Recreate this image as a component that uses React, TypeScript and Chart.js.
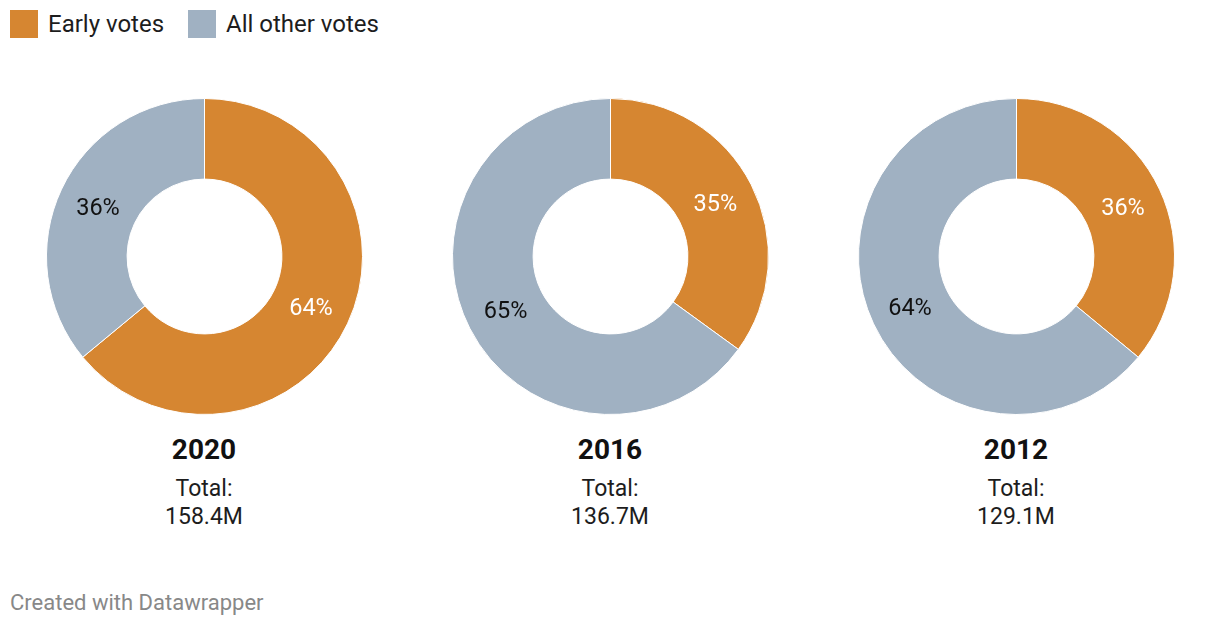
import React, { useEffect, useRef } from "react";
import { Chart, registerables } from "chart.js";

Chart.register(...registerables);

const seriesNames = ["Early votes", "All other votes"];
const seriesColors = ["#d68631", "#a0b1c2"];
const labelColors = ["#ffffff", "#111111"];
const years = ["2020", "2016", "2012"];
const earlyShare = [64, 35, 36];
const otherShare = [36, 65, 64];
const totals = ["158.4M", "136.7M", "129.1M"];

const FONT = "Roboto, 'Noto Sans', sans-serif";

const centersX = [204, 610, 1016];
const centerY = 256;
const SIZE = 317;

const labelPlugin = {
  id: "arcLabels",
  afterDatasetsDraw(chart: any) {
    const ctx = chart.ctx;
    const meta = chart.getDatasetMeta(0);
    const ds = chart.data.datasets[0];
    ctx.save();
    ctx.font = `23.5px ${FONT}`;
    ctx.textAlign = "center";
    ctx.textBaseline = "middle";
    meta.data.forEach((arc: any, i: number) => {
      const p = arc.getProps(["startAngle", "endAngle", "innerRadius", "outerRadius", "x", "y"], true);
      const mid = (p.startAngle + p.endAngle) / 2;
      const r = (p.innerRadius + p.outerRadius) / 2;
      ctx.fillStyle = labelColors[i];
      ctx.fillText(ds.data[i] + "%", p.x + Math.cos(mid) * r, p.y + Math.sin(mid) * r + 2.5);
    });
    ctx.restore();
  },
};

function Donut({ idx }: { idx: number }) {
  const ref = useRef<HTMLCanvasElement | null>(null);
  useEffect(() => {
    const chart = new Chart(ref.current as HTMLCanvasElement, {
      type: "doughnut",
      data: {
        labels: seriesNames,
        datasets: [
          {
            data: [earlyShare[idx], otherShare[idx]],
            backgroundColor: seriesColors,
            borderColor: "#ffffff",
            borderWidth: 1,
          },
        ],
      },
      options: {
        responsive: false,
        animation: false,
        cutout: "49%",
        layout: { padding: 0 },
        plugins: { legend: { display: false }, tooltip: { enabled: false } },
      },
      plugins: [labelPlugin],
    });
    return () => chart.destroy();
  }, [idx]);
  return (
    <canvas
      ref={ref}
      width={SIZE}
      height={SIZE}
      style={{
        position: "absolute",
        left: centersX[idx] - SIZE / 2,
        top: centerY - SIZE / 2,
        width: SIZE,
        height: SIZE,
      }}
    />
  );
}

export default function App() {
  useEffect(() => {
    document.body.style.margin = "0";
  }, []);
  return (
    <div
      style={{
        position: "relative",
        width: 1220,
        height: 626,
        background: "#ffffff",
        fontFamily: FONT,
        color: "#1d1d1d",
        overflow: "hidden",
      }}
    >
      {seriesNames.map((n, i) => (
        <div
          key={n}
          style={{
            position: "absolute",
            left: i === 0 ? 10 : 188,
            top: 10,
            display: "flex",
            alignItems: "center",
            height: 28,
          }}
        >
          <div style={{ width: 28, height: 28, background: seriesColors[i], marginRight: 10 }} />
          <span style={{ fontSize: 24, lineHeight: "28px", whiteSpace: "nowrap" }}>{n}</span>
        </div>
      ))}
      {years.map((y, i) => (
        <Donut key={y} idx={i} />
      ))}
      {years.map((y, i) => (
        <div
          key={"t" + y}
          style={{
            position: "absolute",
            left: centersX[i] - 100,
            width: 200,
            top: 434,
            textAlign: "center",
          }}
        >
          <div style={{ fontSize: 28, fontWeight: 700, lineHeight: "32px", color: "#111" }}>{y}</div>
          <div style={{ fontSize: 23, lineHeight: "28px", marginTop: 9 }}>Total:</div>
          <div style={{ fontSize: 23, lineHeight: "28px" }}>{totals[i]}</div>
        </div>
      ))}
      <div
        style={{
          position: "absolute",
          left: 10,
          top: 589,
          fontSize: 22,
          lineHeight: "28px",
          color: "#888888",
        }}
      >
        Created with Datawrapper
      </div>
    </div>
  );
}
